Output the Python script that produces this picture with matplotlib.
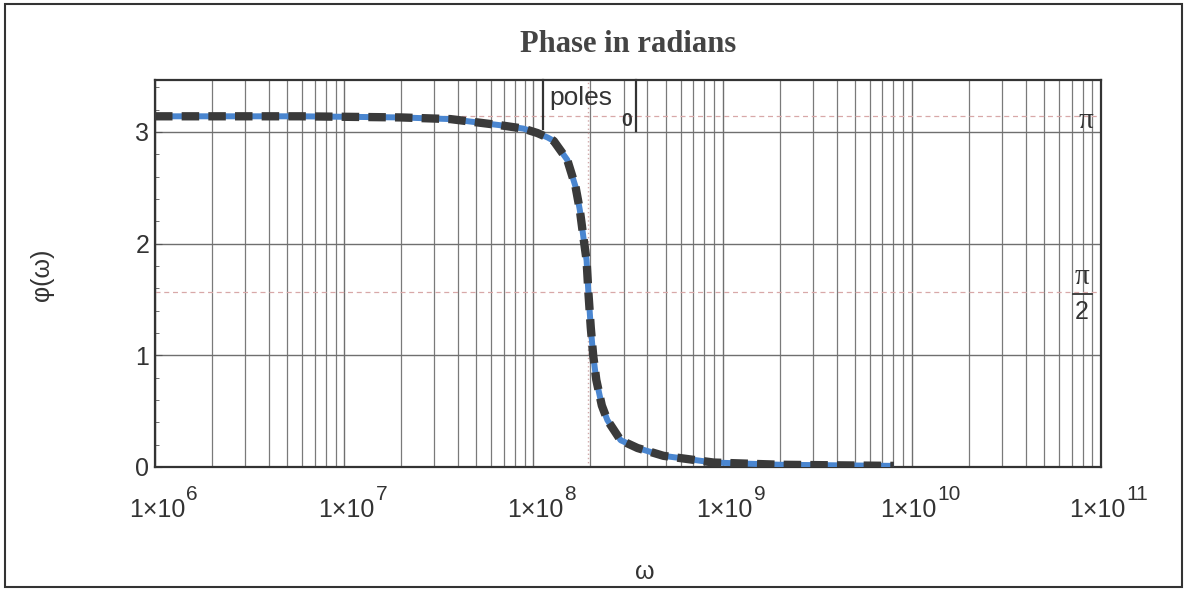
import numpy as np
import matplotlib
matplotlib.use("Agg")
import matplotlib.pyplot as plt
from matplotlib.ticker import LogLocator, FixedLocator, MultipleLocator, NullFormatter
from matplotlib.patches import Rectangle

plt.rcParams['font.family'] = ['Liberation Sans', 'DejaVu Sans']

# ---- data ----
omega = [1e6, 5.85e6, 1.98e7, 3.64e7, 6.68e7, 8.85e7, 1.05e8, 1.19e8, 1.28e8, 1.51e8,
         1.67e8, 1.76e8, 1.84e8, 1.91e8, 1.95e8, 2.01e8, 2.07e8, 2.15e8, 2.30e8, 2.46e8,
         2.89e8, 3.55e8, 4.87e8, 8.96e8, 2.03e9, 8.04e9]
phi = [3.14, 3.14, 3.13, 3.115, 3.06, 3.03, 2.99, 2.95, 2.92, 2.75,
       2.51, 2.30, 2.05, 1.85, 1.58, 1.25, 1.00, 0.78, 0.55, 0.42,
       0.24, 0.17, 0.10, 0.04, 0.02, 0.01]
pole_omega = 1.95e8
ref_levels = [np.pi, np.pi / 2]
xtick_exps = [6, 7, 8, 9, 10, 11]
ytick_vals = [0, 1, 2, 3]

W, H = 1188, 591
PT = 72 / 100  # points per pixel
fig = plt.figure(figsize=(W / 100, H / 100), dpi=100)
fig.patch.set_facecolor('white')

# outer frame
fig.add_artist(Rectangle((5 / W, 4 / H), 1177 / W, 583 / H, transform=fig.transFigure,
                         fill=False, edgecolor='#333333', linewidth=1.5))

ax = fig.add_axes([155 / W, 1 - 467 / H, (1101 - 155) / W, (467 - 80) / H])
ax.set_xscale('log')
ax.set_xlim(1e6, 1e11)
ax.set_ylim(0, 3.465)

# grid
ax.xaxis.set_major_locator(FixedLocator([10.0 ** e for e in xtick_exps]))
ax.xaxis.set_minor_locator(LogLocator(base=10, subs=np.arange(2, 10)))
ax.xaxis.set_minor_formatter(NullFormatter())
ax.xaxis.set_major_formatter(NullFormatter())
ax.yaxis.set_major_locator(FixedLocator(ytick_vals))
ax.yaxis.set_minor_locator(MultipleLocator(0.2))
ax.grid(True, which='major', axis='both', color='#6f6f6f', linewidth=1.0)
ax.grid(True, which='minor', axis='x', color='#7a7a7a', linewidth=0.9)
ax.set_axisbelow(True)

ax.tick_params(axis='both', which='both', direction='in', labelsize=18, labelcolor='#333333',
               color='#555555')
ax.tick_params(axis='x', which='both', length=0)
ax.tick_params(axis='y', which='major', length=5, pad=4)
ax.tick_params(axis='y', which='minor', length=3)

# x tick labels "1×10^n" with large superscripts
for e in xtick_exps:
    sup = str(e)
    sw = 11.6 * len(sup)
    base_right = 36 - sw / 2
    ax.annotate('1×10', xy=(10.0 ** e, 0), xycoords=('data', 'axes fraction'),
                xytext=(base_right * PT, -50 * PT), textcoords='offset points',
                ha='right', va='baseline', fontsize=18, color='#333333',
                annotation_clip=False)
    ax.annotate(sup, xy=(10.0 ** e, 0), xycoords=('data', 'axes fraction'),
                xytext=((base_right + 1) * PT, -33 * PT), textcoords='offset points',
                ha='left', va='baseline', fontsize=15, color='#333333',
                annotation_clip=False)

for s in ax.spines.values():
    s.set_color('#333333')
    s.set_linewidth(1.6)

# reference lines
for lvl in ref_levels:
    ax.axhline(lvl, color='#d8a8a8', linestyle=(0, (4, 3)), linewidth=0.9, zorder=1.5)
ax.axvline(pole_omega, color='#d0a8a8', linestyle=(0, (1, 2)), linewidth=1.0, zorder=1.5)

# right-side labels: π and π/2 (stacked fraction)
ax.annotate('π', xy=(1, ref_levels[0]), xycoords=('axes fraction', 'data'),
            xytext=(-15 * PT, -5 * PT), textcoords='offset points',
            ha='center', va='center', fontsize=21, family='Liberation Serif', color='#333333')
ax.annotate('π', xy=(1, ref_levels[1]), xycoords=('axes fraction', 'data'),
            xytext=(-19 * PT, 15 * PT), textcoords='offset points',
            ha='center', va='center', fontsize=21, family='Liberation Serif', color='#333333')
ax.annotate('2', xy=(1, ref_levels[1]), xycoords=('axes fraction', 'data'),
            xytext=(-19 * PT, -20 * PT), textcoords='offset points',
            ha='center', va='center', fontsize=18, color='#333333')
frac_x0 = 1 - 28 / 946
frac_x1 = 1 - 9 / 946
ax.plot([frac_x0, frac_x1], [ref_levels[1] - 0.02] * 2, color='#333333', linewidth=1.3,
        transform=ax.get_yaxis_transform(), zorder=5)

# curves
ax.plot(omega, phi, color='#4a86d0', linewidth=4.3, solid_capstyle='butt', zorder=3)
ax.plot(omega, phi, color='#3a3a3a', linewidth=6.0, linestyle=(0, (2.1, 1.1)),
        dash_capstyle='butt', zorder=4)

# |poles_0| annotation
ax.plot([1.13e8, 1.13e8], [3.465, 3.03], color='#333333', linewidth=1.6, clip_on=False, zorder=5)
ax.plot([3.47e8, 3.47e8], [3.465, 3.01], color='#333333', linewidth=1.6, clip_on=False, zorder=5)
ax.text(1.21e8, 3.30, 'poles', fontsize=19, color='#333333', ha='left', va='center')
ax.text(3.1e8, 3.09, '0', fontsize=14, color='#333333', ha='center', va='center',
        fontweight='bold')

# titles / labels
fig.text(628 / W, 1 - 45 / H, 'Phase in radians', fontsize=22, fontweight='bold',
         family='Liberation Serif', color='#444444', ha='center', va='center')
fig.text(42 / W, 1 - 275 / H, 'φ(ω)', fontsize=18, rotation=90, color='#333333',
         ha='center', va='center')
fig.text(645 / W, 1 - 572 / H, 'ω', fontsize=18, color='#333333', ha='center', va='center')

fig.savefig('out.png', dpi=100)
